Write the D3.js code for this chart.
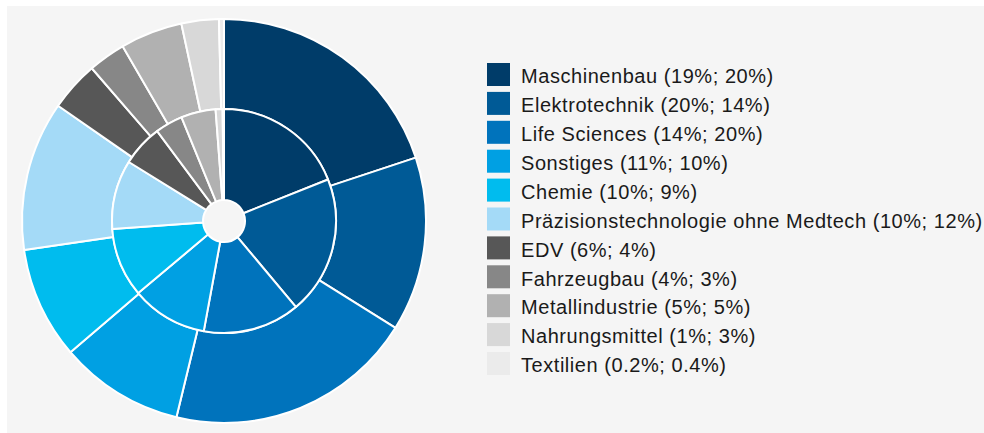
<!DOCTYPE html>
<html>
<head>
<meta charset="utf-8">
<script src="https://cdn.jsdelivr.net/npm/d3@7"></script>
<style>
  html, body { margin: 0; padding: 0; background: #fff; }
  svg { display: block; }
</style>
</head>
<body>
<div id="chart"></div>
<script>
// Branchen: inner ring = first share, outer ring = second share
const categories = [
  "Maschinenbau", "Elektrotechnik", "Life Sciences", "Sonstiges", "Chemie",
  "Präzisionstechnologie ohne Medtech", "EDV", "Fahrzeugbau",
  "Metallindustrie", "Nahrungsmittel", "Textilien"
];
const innerValues = [19, 20, 14, 11, 10, 10, 6, 4, 5, 1, 0.2];
const outerValues = [20, 14, 20, 10, 9, 12, 4, 3, 5, 3, 0.4];
const colors = [
  "#003c69", "#005a96", "#0073bc", "#00a0e3", "#00bcee",
  "#a4daf7", "#575757", "#878787", "#b1b1b1", "#d8d8d8", "#ebebeb"
];

const width = 984, height = 433;
const cx = 224, cy = 221;
const rHole = 21, rMid = 112, rOuter = 202;

const svg = d3.select("#chart").append("svg")
  .attr("width", width)
  .attr("height", height);

// grey panel
svg.append("rect")
  .attr("x", 7).attr("y", 6)
  .attr("width", width - 7).attr("height", height - 6)
  .attr("fill", "#f5f5f5");

const pie = d3.pie().sort(null).value(d => d.v);
const color = d3.scaleOrdinal().domain(categories).range(colors);

function ring(values, r0, r1) {
  const data = pie(values.map((v, i) => ({ name: categories[i], v })));
  const arc = d3.arc().innerRadius(r0).outerRadius(r1);
  const g = svg.append("g").attr("transform", `translate(${cx},${cy})`);
  g.selectAll("path")
    .data(data)
    .enter()
    .append("path")
    .attr("d", arc)
    .attr("fill", d => color(d.data.name))
    .attr("stroke", "#fff")
    .attr("stroke-width", 2)
    .attr("stroke-linejoin", "round");
}

ring(outerValues, rMid, rOuter);
ring(innerValues, rHole, rMid);

// legend
const fmt = v => String(v) + "%";
const legend = svg.append("g").attr("transform", "translate(487,63)");
const rowH = 28.9;
const item = legend.selectAll("g")
  .data(categories)
  .enter()
  .append("g")
  .attr("transform", (d, i) => `translate(0,${i * rowH})`);

item.append("rect")
  .attr("width", 23)
  .attr("height", 23)
  .attr("fill", d => color(d));

item.append("text")
  .attr("x", 34)
  .attr("y", 20.3)
  .attr("font-family", "'Liberation Sans', Arial, Helvetica, sans-serif")
  .attr("font-size", 20)
  .attr("letter-spacing", 0.55)
  .attr("fill", "#1a1a1a")
  .text((d, i) => `${d} (${fmt(innerValues[i])}; ${fmt(outerValues[i])})`);
</script>
</body>
</html>
